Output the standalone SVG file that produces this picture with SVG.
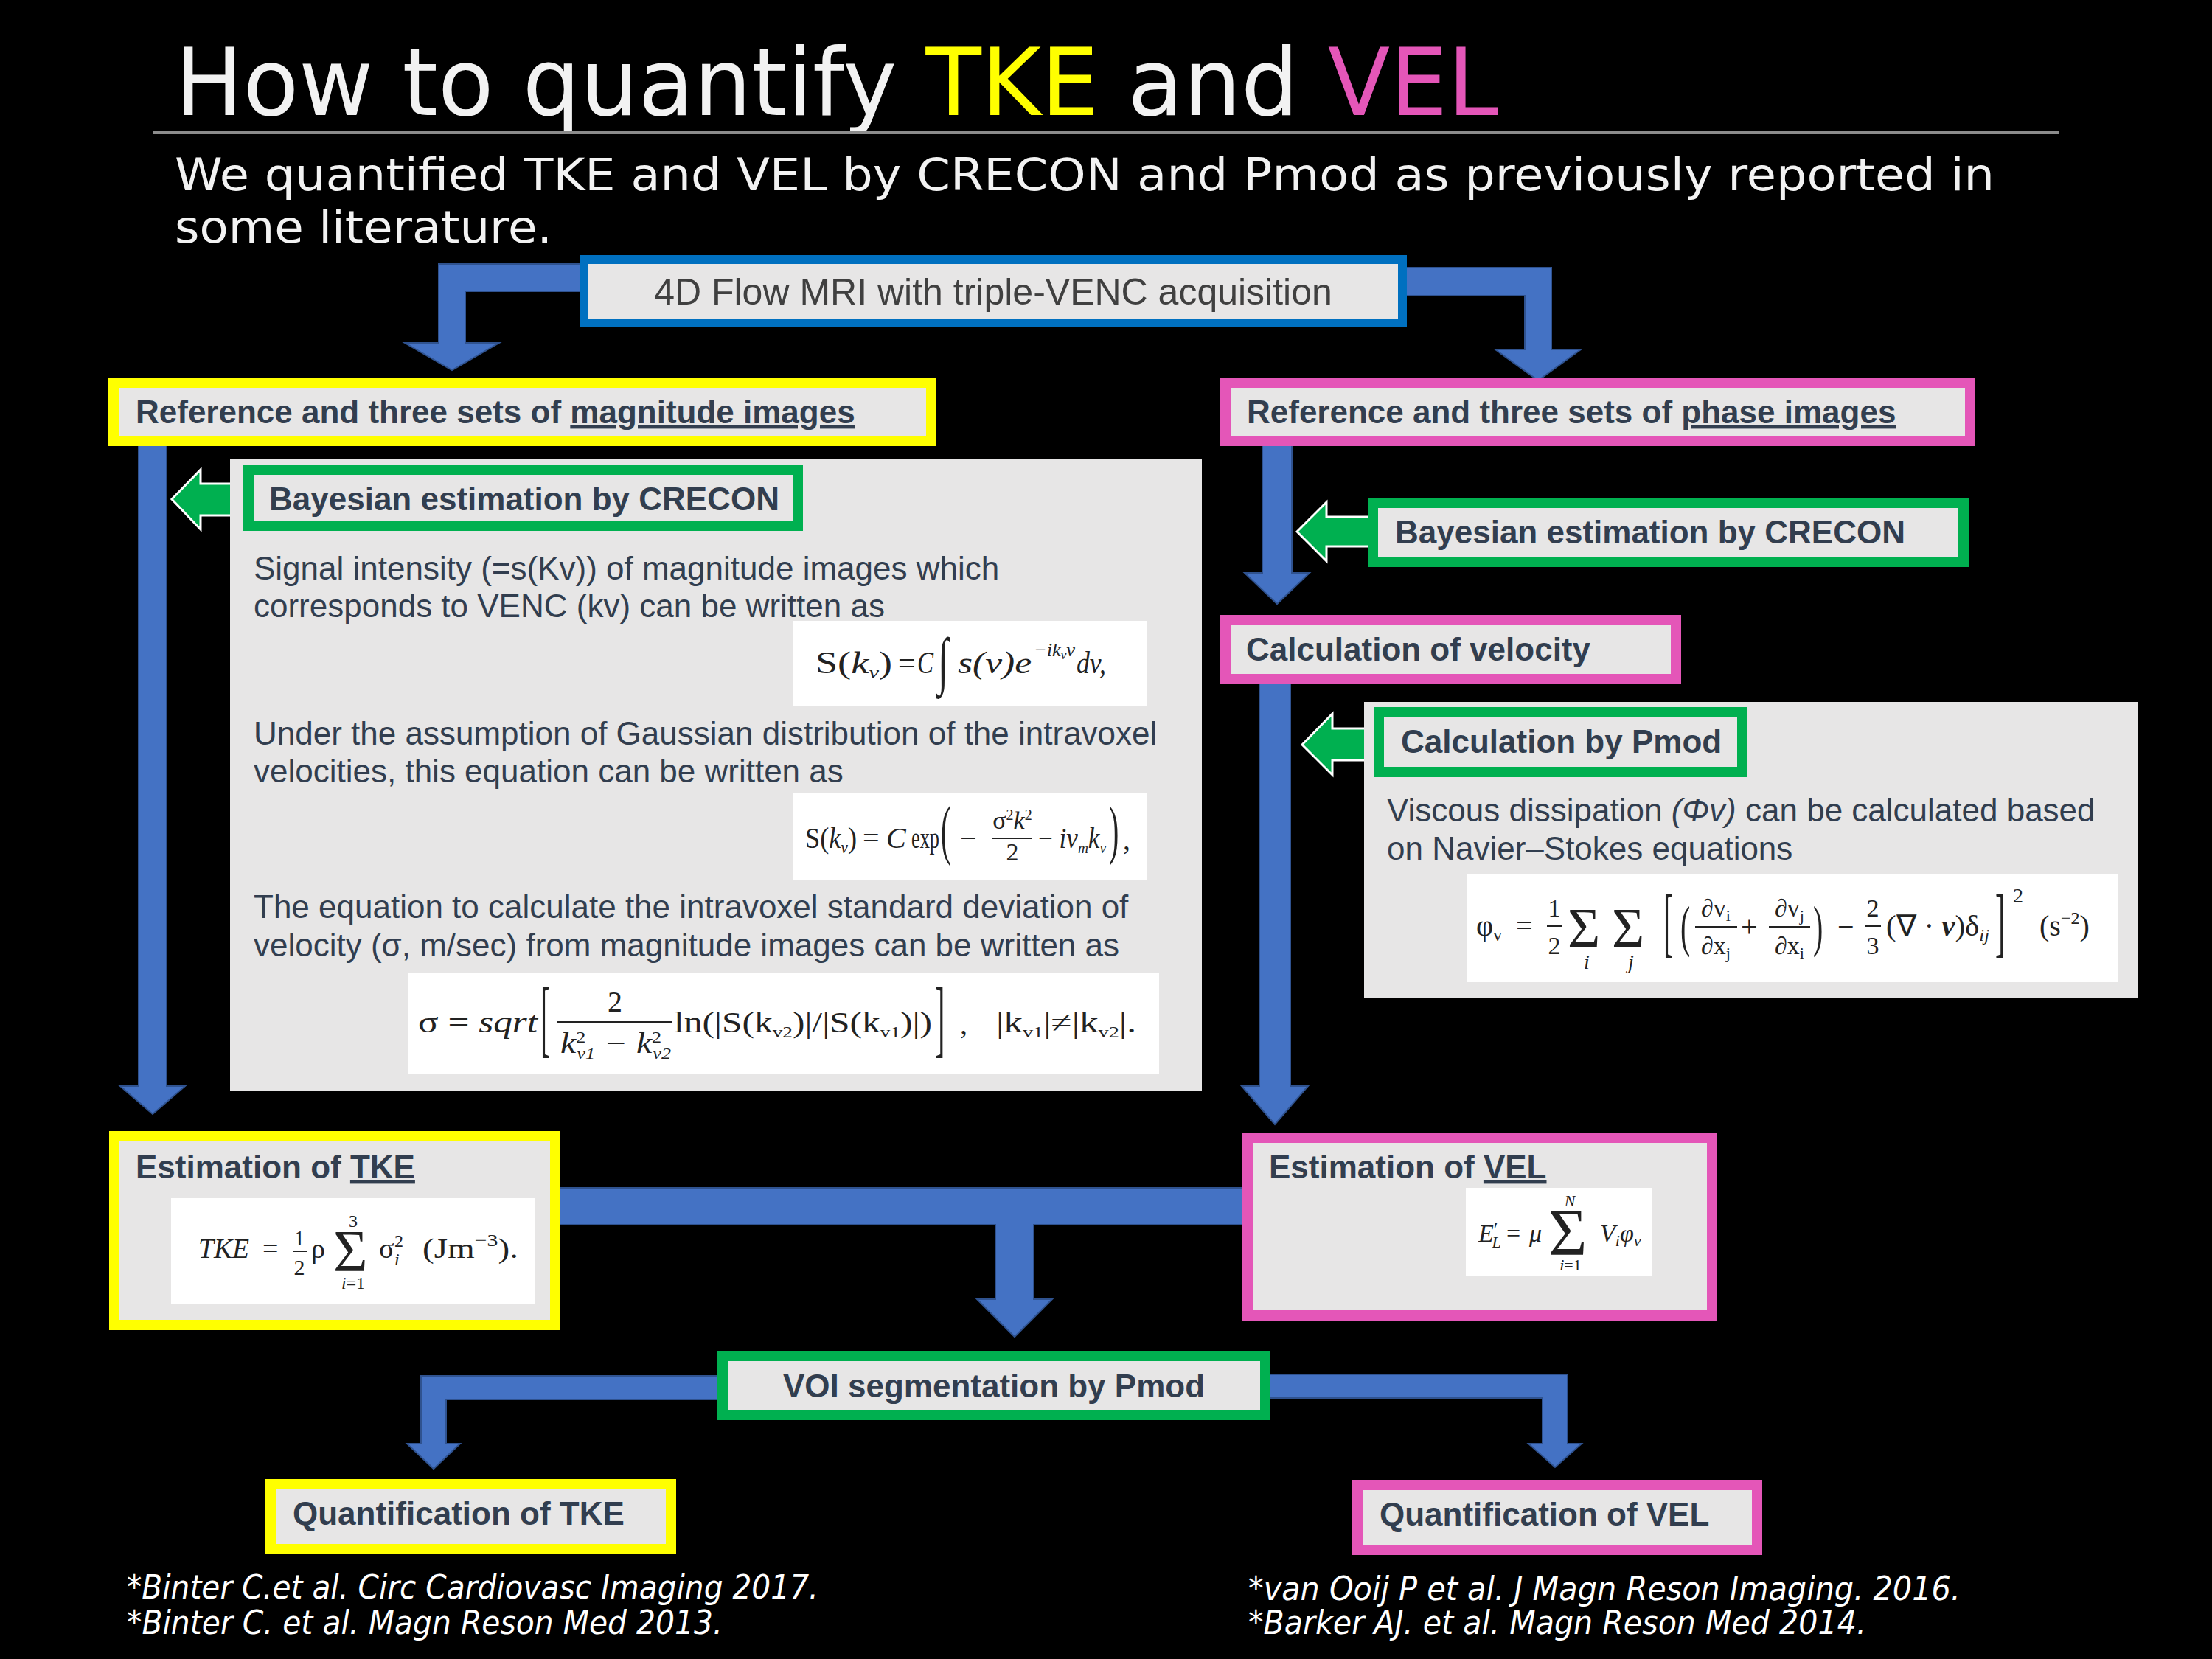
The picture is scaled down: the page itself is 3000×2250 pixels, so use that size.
<svg xmlns="http://www.w3.org/2000/svg" width="3000" height="2250" viewBox="0 0 3000 2250">
<style>
.box{fill:#E7E6E6}
.y{stroke:#FFFF00;stroke-width:14}
.p{stroke:#E456B8;stroke-width:14}
.g{stroke:#00B050;stroke-width:14}
.b{stroke:#0070C0;stroke-width:12}
.hd{font-family:"Liberation Sans",Arial,sans-serif;font-weight:bold;font-size:44px;fill:#323E4F}
.tx{font-family:"Liberation Sans",Arial,sans-serif;font-size:44px;fill:#323E4F}
.arr{fill:#4472C4;stroke:#2F528F;stroke-width:2}
.garr{fill:#00B050;stroke:#FFFFFF;stroke-width:3}
.wb{fill:#FFFFFF}
.fm{font-family:"Liberation Serif","Times New Roman",serif;fill:#222222}
.it{font-style:italic}
.ref{font-family:"DejaVu Sans",Verdana,sans-serif;font-style:italic;font-size:44px;fill:#FFFFFF}
</style>
<rect x="0" y="0" width="3000" height="2250" fill="#000000"/>

<g id="title">
<text x="237" y="156" font-family="DejaVu Sans,Verdana,sans-serif" font-size="126" fill="#F2F2F2" textLength="1795" lengthAdjust="spacingAndGlyphs">How to quantify <tspan fill="#FFFF00">TKE</tspan> and <tspan fill="#E456B8">VEL</tspan></text>
<line x1="207" y1="180" x2="2793" y2="180" stroke="#8C8C8C" stroke-width="4"/>
<text x="237" y="258" font-family="DejaVu Sans,Verdana,sans-serif" font-size="60" fill="#F2F2F2" textLength="2468" lengthAdjust="spacingAndGlyphs">We quantified TKE and VEL by CRECON and Pmod as previously reported in</text>
<text x="237" y="329" font-family="DejaVu Sans,Verdana,sans-serif" font-size="60" fill="#F2F2F2" textLength="512" lengthAdjust="spacingAndGlyphs">some literature.</text>
</g>

<g id="connectors">
<polygon class="arr" points="800,358 595,358 595,465 549,465 613,502 677,465 631,465 631,395 800,395"/>
<polygon class="arr" points="1895,363 2104,363 2104,474 2144,474 2086,516 2028,474 2068,474 2068,401 1895,401"/>
<polygon class="arr" points="188,600 226,600 226,1473 251,1473 207,1511 163,1473 188,1473"/>
<polygon class="arr" points="1712,600 1752,600 1752,777 1776,777 1732,819 1688,777 1712,777"/>
<polygon class="arr" points="1708,922 1750,922 1750,1473 1774,1473 1729,1525 1684,1473 1708,1473"/>
<polygon class="arr" points="755,1611 1690,1611 1690,1661 1402,1661 1402,1762 1427,1762 1376,1813 1325,1762 1350,1762 1350,1661 755,1661"/>
<polygon class="arr" points="985,1866 571,1866 571,1958 552,1958 588,1992 624,1958 605,1958 605,1898 985,1898"/>
<polygon class="arr" points="1710,1864 2126,1864 2126,1958 2145,1958 2109,1990 2073,1958 2092,1958 2092,1896 1710,1896"/>
<polygon class="garr" points="233,677 272,637 272,656 340,656 340,699 272,699 272,718"/>
<polygon class="garr" points="1759,721 1799,681 1799,701 1862,701 1862,741 1799,741 1799,761"/>
<polygon class="garr" points="1766,1010 1807,968 1807,988 1868,988 1868,1031 1807,1031 1807,1051"/>
</g>

<g id="flow-mri">
<rect class="box b" x="792" y="352" width="1110" height="86"/>
<text x="1347" y="413" text-anchor="middle" font-family="Liberation Sans,Arial,sans-serif" font-size="50" fill="#404040">4D Flow MRI with triple-VENC acquisition</text>
</g>

<g id="magnitude-images">
<rect class="box y" x="154" y="519" width="1109" height="79"/>
<text class="hd" x="184" y="574">Reference and three sets of <tspan text-decoration="underline">magnitude images</tspan></text>
</g>

<g id="phase-images">
<rect class="box p" x="1662" y="519" width="1010" height="79"/>
<text class="hd" x="1691" y="574">Reference and three sets of <tspan text-decoration="underline">phase images</tspan></text>
</g>

<g id="crecon-panel">
<rect class="box" x="312" y="622" width="1318" height="858"/>
<text class="tx" x="344" y="786">Signal intensity (=s(Kv)) of magnitude images which</text>
<text class="tx" x="344" y="837">corresponds to VENC (kv) can be written as</text>
<rect class="wb" x="1075" y="842" width="481" height="115"/>
<g class="fm" font-size="42">
<text x="1106" y="913" textLength="104" lengthAdjust="spacingAndGlyphs">S(<tspan class="it">k</tspan><tspan class="it" font-size="24" dy="7">v</tspan><tspan dy="-7">)</tspan></text>
<text x="1218" y="913">=</text>
<text x="1244" y="913" class="it" textLength="22" lengthAdjust="spacingAndGlyphs">C</text>
<text transform="translate(1272,925) scale(0.6,1)" font-size="86">∫</text>
<text x="1299" y="913" class="it" textLength="100" lengthAdjust="spacingAndGlyphs">s(v)e</text>
<text x="1402" y="890" class="it" font-size="26" textLength="56" lengthAdjust="spacingAndGlyphs">−ik<tspan font-size="17" dy="4">v</tspan><tspan dy="-4">v</tspan></text>
<text x="1460" y="913" class="it" textLength="40" lengthAdjust="spacingAndGlyphs">dv,</text>
</g>
<text class="tx" x="344" y="1010">Under the assumption of Gaussian distribution of the intravoxel</text>
<text class="tx" x="344" y="1061">velocities, this equation can be written as</text>
<rect class="wb" x="1075" y="1076" width="481" height="118"/>
<g class="fm" font-size="40">
<text x="1092" y="1150" textLength="70" lengthAdjust="spacingAndGlyphs">S(<tspan class="it">k</tspan><tspan class="it" font-size="24" dy="7">v</tspan><tspan dy="-7">)</tspan></text>
<text x="1170" y="1150">=</text>
<text x="1202" y="1150" class="it">C</text>
<text x="1236" y="1150" textLength="38" lengthAdjust="spacingAndGlyphs">exp</text>
<text transform="translate(1276,1155) scale(1,2.2)" font-size="40">(</text>
<text x="1302" y="1150">−</text>
<text x="1373" y="1124" text-anchor="middle" font-size="34">σ<tspan font-size="20" dy="-12">2</tspan><tspan class="it" dy="12">k</tspan><tspan font-size="20" dy="-12">2</tspan></text>
<line x1="1346" y1="1137" x2="1400" y2="1137" stroke="#222" stroke-width="2"/>
<text x="1373" y="1167" text-anchor="middle" font-size="34">2</text>
<text x="1408" y="1150" textLength="92" lengthAdjust="spacingAndGlyphs">− <tspan class="it">iv</tspan><tspan class="it" font-size="22" dy="7">m</tspan><tspan class="it" dy="-7">k</tspan><tspan class="it" font-size="22" dy="7">v</tspan></text>
<text transform="translate(1504,1155) scale(1,2.2)" font-size="40">)</text>
<text x="1523" y="1152">,</text>
</g>
<text class="tx" x="344" y="1245">The equation to calculate the intravoxel standard deviation of</text>
<text class="tx" x="344" y="1297">velocity (σ, m/sec) from magnitude images can be written as</text>
<rect class="wb" x="553" y="1320" width="1019" height="137"/>
<g class="fm" font-size="40">
<text x="567" y="1400" textLength="162" lengthAdjust="spacingAndGlyphs">σ = <tspan class="it">sqrt</tspan></text>
<text transform="translate(733,1419) scale(1,2.9)" font-size="40">[</text>
<text x="834" y="1372" text-anchor="middle">2</text>
<line x1="756" y1="1386" x2="912" y2="1386" stroke="#222" stroke-width="2"/>
<text x="760" y="1428" class="it" textLength="150" lengthAdjust="spacingAndGlyphs">k<tspan font-size="22" dy="-14" font-style="normal">2</tspan><tspan font-size="22" dy="22" dx="-10">v1</tspan><tspan dy="-8"> − k</tspan><tspan font-size="22" dy="-14" font-style="normal">2</tspan><tspan font-size="22" dy="22" dx="-10">v2</tspan></text>
<text x="914" y="1400" textLength="350" lengthAdjust="spacingAndGlyphs">ln(|S(k<tspan font-size="22" dy="7">v2</tspan><tspan dy="-7">)|/|S(k</tspan><tspan font-size="22" dy="7">v1</tspan><tspan dy="-7">)|)</tspan></text>
<text transform="translate(1268,1419) scale(1,2.9)" font-size="40">]</text>
<text x="1302" y="1402">,</text>
<text x="1351" y="1400" textLength="190" lengthAdjust="spacingAndGlyphs">|k<tspan font-size="22" dy="7">v1</tspan><tspan dy="-7">|≠|k</tspan><tspan font-size="22" dy="7">v2</tspan><tspan dy="-7">|.</tspan></text>
</g>
</g>

<g id="crecon-left">
<rect class="box g" x="337" y="637" width="745" height="76"/>
<text class="hd" x="365" y="692">Bayesian estimation by CRECON</text>
</g>

<g id="crecon-right">
<rect class="box g" x="1862" y="682" width="801" height="80"/>
<text class="hd" x="1892" y="737">Bayesian estimation by CRECON</text>
</g>

<g id="velocity">
<rect class="box p" x="1662" y="841" width="611" height="80"/>
<text class="hd" x="1690" y="896">Calculation of velocity</text>
</g>

<g id="pmod-panel">
<rect class="box" x="1850" y="952" width="1049" height="402"/>
<text class="tx" x="1881" y="1114">Viscous dissipation <tspan font-style="italic">(Φv)</tspan> can be calculated based</text>
<text class="tx" x="1881" y="1166">on Navier–Stokes equations</text>
<rect class="wb" x="1989" y="1185" width="883" height="147"/>
<g class="fm" font-size="40">
<text x="2002" y="1269">φ<tspan font-size="24" dy="7">v</tspan></text>
<text x="2056" y="1269">=</text>
<text x="2108" y="1243" text-anchor="middle" font-size="34">1</text>
<line x1="2098" y1="1256" x2="2119" y2="1256" stroke="#222" stroke-width="2"/>
<text x="2108" y="1294" text-anchor="middle" font-size="34">2</text>
<text x="2126" y="1284" font-size="76">Σ</text>
<text x="2152" y="1314" class="it" font-size="28" text-anchor="middle">i</text>
<text x="2186" y="1284" font-size="76">Σ</text>
<text x="2212" y="1314" class="it" font-size="28" text-anchor="middle">j</text>
<text transform="translate(2256,1285) scale(1,2.6)" font-size="40">[</text>
<text transform="translate(2279,1282) scale(1,1.9)" font-size="40">(</text>
<text x="2327" y="1243" text-anchor="middle" font-size="34">∂v<tspan font-size="22" dy="6">i</tspan></text>
<line x1="2299" y1="1257" x2="2356" y2="1257" stroke="#222" stroke-width="2"/>
<text x="2327" y="1294" text-anchor="middle" font-size="34">∂x<tspan font-size="22" dy="6">j</tspan></text>
<text x="2361" y="1270">+</text>
<text x="2427" y="1243" text-anchor="middle" font-size="34">∂v<tspan font-size="22" dy="6">j</tspan></text>
<line x1="2399" y1="1257" x2="2455" y2="1257" stroke="#222" stroke-width="2"/>
<text x="2427" y="1294" text-anchor="middle" font-size="34">∂x<tspan font-size="22" dy="6">i</tspan></text>
<text transform="translate(2459,1282) scale(1,1.9)" font-size="40">)</text>
<text x="2492" y="1270">−</text>
<text x="2540" y="1243" text-anchor="middle" font-size="34">2</text>
<line x1="2530" y1="1256" x2="2551" y2="1256" stroke="#222" stroke-width="2"/>
<text x="2540" y="1294" text-anchor="middle" font-size="34">3</text>
<text x="2558" y="1269" textLength="140" lengthAdjust="spacingAndGlyphs">(∇ · <tspan font-weight="bold" class="it">v</tspan>)δ<tspan class="it" font-size="24" dy="7">ij</tspan></text>
<text transform="translate(2706,1285) scale(1,2.6)" font-size="40">]</text>
<text x="2730" y="1224" font-size="28">2</text>
<text x="2766" y="1269">(s<tspan font-size="24" dy="-16">−2</tspan><tspan dy="16">)</tspan></text>
</g>
</g>

<g id="pmod">
<rect class="box g" x="1870" y="966" width="493" height="81"/>
<text class="hd" x="1900" y="1021">Calculation by Pmod</text>
</g>

<g id="tke-estimation">
<rect class="box y" x="155" y="1541" width="598" height="256"/>
<text class="hd" x="184" y="1598">Estimation of <tspan text-decoration="underline">TKE</tspan></text>
<rect class="wb" x="232" y="1625" width="493" height="143"/>
<g class="fm" font-size="38">
<text x="269" y="1706" class="it" textLength="69" lengthAdjust="spacingAndGlyphs">TKE</text>
<text x="356" y="1706">=</text>
<text x="406" y="1689" text-anchor="middle" font-size="30">1</text>
<line x1="397" y1="1697" x2="416" y2="1697" stroke="#222" stroke-width="2"/>
<text x="406" y="1729" text-anchor="middle" font-size="30">2</text>
<text x="422" y="1706">ρ</text>
<text x="452" y="1724" font-size="80">Σ</text>
<text x="479" y="1664" text-anchor="middle" font-size="24">3</text>
<text x="479" y="1748" text-anchor="middle" font-size="24"><tspan class="it">i</tspan>=1</text>
<text x="514" y="1706">σ</text>
<text x="535" y="1691" font-size="24">2</text>
<text x="535" y="1716" class="it" font-size="24">i</text>
<text x="573" y="1706" textLength="130" lengthAdjust="spacingAndGlyphs">(Jm<tspan font-size="24" dy="-16">−3</tspan><tspan dy="16">).</tspan></text>
</g>
</g>

<g id="vel-estimation">
<rect class="box p" x="1692" y="1543" width="630" height="241"/>
<text class="hd" x="1721" y="1598">Estimation of <tspan text-decoration="underline">VEL</tspan></text>
<rect class="wb" x="1988" y="1611" width="253" height="120"/>
<g class="fm" font-size="34">
<text x="2005" y="1684" class="it">E<tspan font-size="26" dy="-8" font-style="normal">′</tspan><tspan font-size="22" dy="16" dx="-8">L</tspan></text>
<text x="2043" y="1684">=</text>
<text x="2074" y="1684" class="it">μ</text>
<text x="2100" y="1702" font-size="90">Σ</text>
<text x="2129" y="1636" class="it" text-anchor="middle" font-size="22">N</text>
<text x="2130" y="1723" text-anchor="middle" font-size="22"><tspan class="it">i</tspan>=1</text>
<text x="2170" y="1684" class="it">V<tspan font-size="22" dy="6">i</tspan><tspan dy="-6">φ</tspan><tspan font-size="22" dy="6">v</tspan></text>
</g>
</g>

<g id="voi-segmentation">
<rect class="box g" x="980" y="1839" width="736" height="80"/>
<text class="hd" x="1348" y="1895" text-anchor="middle">VOI segmentation by Pmod</text>
</g>

<g id="quant-tke">
<rect class="box y" x="367" y="2013" width="543" height="88"/>
<text class="hd" x="397" y="2068">Quantification of TKE</text>
</g>

<g id="quant-vel">
<rect class="box p" x="1841" y="2014" width="542" height="88"/>
<text class="hd" x="1871" y="2069">Quantification of VEL</text>
</g>

<g id="references">
<text class="ref" x="172" y="2168" textLength="938" lengthAdjust="spacingAndGlyphs">*Binter C.et al. Circ Cardiovasc Imaging 2017.</text>
<text class="ref" x="172" y="2216" textLength="808" lengthAdjust="spacingAndGlyphs">*Binter C. et al. Magn Reson Med 2013.</text>
<text class="ref" x="1693" y="2170" textLength="966" lengthAdjust="spacingAndGlyphs">*van Ooij P et al. J Magn Reson Imaging. 2016.</text>
<text class="ref" x="1693" y="2216" textLength="838" lengthAdjust="spacingAndGlyphs">*Barker AJ. et al. Magn Reson Med 2014.</text>
</g>
</svg>
